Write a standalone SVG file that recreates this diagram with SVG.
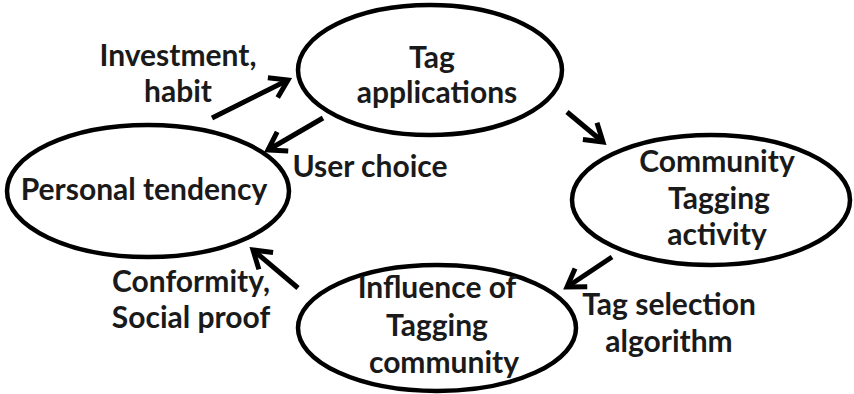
<svg xmlns="http://www.w3.org/2000/svg" width="854" height="394" viewBox="0 0 854 394">
<defs>
<style>
.node ellipse{fill:#fff;stroke:#000;stroke-width:4.5}
text{font-family:Lato,"Liberation Sans",sans-serif;font-weight:bold;font-size:30px;fill:#1a1a1a;text-anchor:middle}
.conn line{stroke:#000;stroke-width:5;marker-end:url(#arr)}
</style>
<marker id="arr" markerUnits="userSpaceOnUse" viewBox="-25 -15 30 30" markerWidth="30" markerHeight="30" refX="0" refY="0" orient="auto">
<path d="M-17,-11 L0,0 L-17,11" fill="none" stroke="#000" stroke-width="5" stroke-linejoin="miter"/>
</marker>
</defs>
<rect width="854" height="394" fill="#fff"/>
<g id="tag-applications" class="node">
<ellipse cx="430" cy="70" rx="132" ry="65"/>
<text x="432" y="68">Tag</text>
<text x="437" y="103">applications</text>
</g>
<g id="personal-tendency" class="node">
<ellipse cx="148" cy="191" rx="141" ry="66"/>
<text x="144" y="200">Personal tendency</text>
</g>
<g id="community-tagging" class="node">
<ellipse cx="711" cy="200" rx="139" ry="65"/>
<text x="717" y="172">Community</text>
<text x="719" y="209">Tagging</text>
<text x="717" y="245">activity</text>
</g>
<g id="influence" class="node">
<ellipse cx="437" cy="328" rx="139" ry="63"/>
<text x="437" y="298">Influence of</text>
<text x="437" y="336">Tagging</text>
<text x="444" y="373">community</text>
</g>
<g id="connectors" class="conn">
<line x1="212" y1="118" x2="288" y2="80"/>
<line x1="323" y1="118" x2="268" y2="150"/>
<line x1="567" y1="112" x2="603" y2="142"/>
<line x1="612" y1="257" x2="567" y2="287"/>
<line x1="298" y1="288" x2="253" y2="250"/>
</g>
<g id="labels">
<text x="178" y="66">Investment,</text>
<text x="178" y="102">habit</text>
<text x="370" y="177">User choice</text>
<text x="191" y="292">Conformity,</text>
<text x="191" y="328">Social proof</text>
<text x="669" y="315">Tag selection</text>
<text x="669" y="352">algorithm</text>
</g>
</svg>
